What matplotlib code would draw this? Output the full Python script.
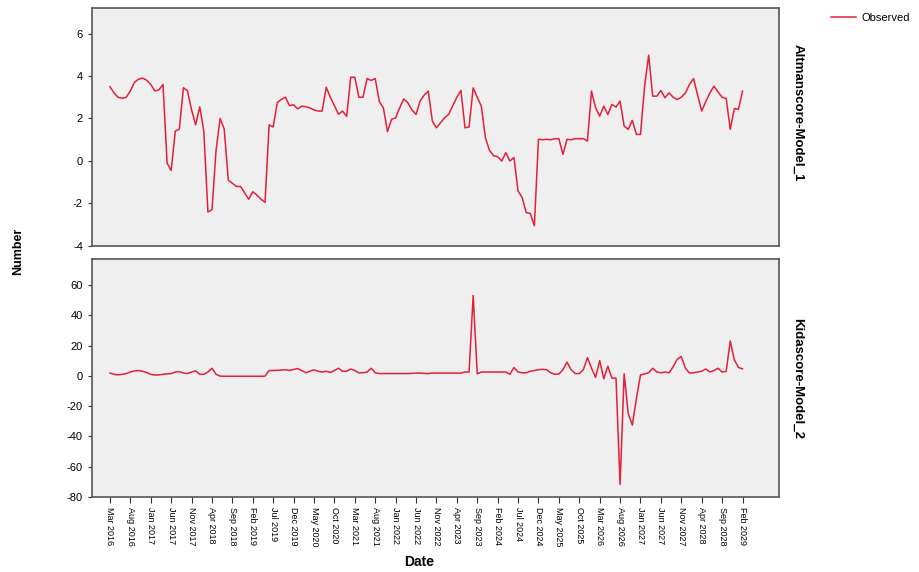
import matplotlib
matplotlib.use("Agg")
import matplotlib.pyplot as plt
import numpy as np

plt.rcParams['font.family'] = ['Liberation Sans', 'DejaVu Sans']
plt.rcParams['axes.unicode_minus'] = False

# monthly observations, Mar 2016 .. Feb 2029
altman = [3.5, 3.2, 3.0, 2.95, 3.0, 3.3, 3.7, 3.85, 3.9, 3.8,
          3.6, 3.3, 3.35, 3.6, -0.1, -0.45, 1.4, 1.5, 3.45, 3.3,
          2.4, 1.7, 2.55, 1.4, -2.4, -2.3, 0.5, 2.0, 1.5, -0.9,
          -1.05, -1.2, -1.2, -1.5, -1.8, -1.45, -1.6, -1.8, -1.95, 1.7,
          1.6, 2.75, 2.9, 3.0, 2.6, 2.65, 2.45, 2.58, 2.55, 2.5,
          2.4, 2.35, 2.35, 3.47, 3.0, 2.6, 2.2, 2.35, 2.1, 3.94,
          3.94, 3.0, 3.0, 3.88, 3.79, 3.88, 2.8, 2.5, 1.38, 1.96,
          2.03, 2.5, 2.92, 2.74, 2.4, 2.19, 2.82, 3.1, 3.29, 1.88,
          1.56, 1.8, 2.03, 2.2, 2.6, 3.0, 3.32, 1.56, 1.6, 3.44,
          3.0, 2.58, 1.09, 0.5, 0.25, 0.2, 0.0, 0.39, 0.0, 0.16,
          -1.41, -1.72, -2.43, -2.47, -3.05, 1.02, 1.0, 1.02, 1.0, 1.05,
          1.05, 0.31, 1.02, 1.0, 1.05, 1.05, 1.05, 0.94, 3.29, 2.5,
          2.11, 2.58, 2.19, 2.66, 2.54, 2.82, 1.64, 1.49, 1.91, 1.25,
          1.25, 3.5, 4.98, 3.05, 3.05, 3.32, 2.97, 3.21, 3.0, 2.89,
          3.0, 3.2, 3.6, 3.88, 3.1, 2.35, 2.8, 3.2, 3.52, 3.25,
          3.0, 2.94, 1.49, 2.47, 2.43, 3.29]

kida = [1.8, 1.0, 0.6, 1.0, 1.5, 2.5, 3.2, 3.5, 3.0, 2.2,
        1.0, 0.5, 0.6, 1.0, 1.3, 1.5, 2.5, 2.8, 1.8, 1.5,
        2.5, 3.3, 1.0, 1.0, 2.5, 5.0, 1.0, -0.2, -0.3, -0.3,
        -0.3, -0.3, -0.3, -0.3, -0.3, -0.3, -0.3, -0.3, -0.2, 3.5,
        3.5, 3.6, 3.8, 4.0, 3.6, 4.2, 4.8, 3.5, 2.0, 3.0,
        4.0, 3.0, 2.5, 3.0, 2.2, 3.5, 5.0, 3.0, 3.0, 4.5,
        3.5, 2.0, 2.0, 2.5, 5.0, 2.0, 1.5, 1.5, 1.5, 1.5,
        1.5, 1.5, 1.5, 1.5, 1.6, 1.8, 1.8, 1.6, 1.5, 1.8,
        1.8, 1.8, 1.8, 1.8, 1.8, 1.8, 1.8, 2.5, 2.5, 53.0,
        1.3, 2.5, 2.5, 2.5, 2.5, 2.5, 2.5, 2.5, 1.0, 5.5,
        2.5, 2.0, 2.0, 3.0, 3.5, 4.0, 4.3, 4.0, 2.0, 1.0,
        1.2, 4.0, 9.0, 4.0, 1.5, 1.5, 4.0, 12.0, 5.0, -1.0,
        10.0, -2.0, 6.3, -1.5, -1.5, -71.7, 1.3, -25.0, -32.5, -15.0,
        0.5, 1.3, 2.0, 5.0, 2.5, 2.0, 2.5, 2.0, 6.0, 11.0,
        12.8, 5.0, 1.8, 2.0, 2.5, 3.0, 4.5, 2.5, 3.5, 5.0,
        2.5, 3.0, 23.0, 10.5, 5.5, 4.6]

tick_labels = ['Mar 2016', 'Aug 2016', 'Jan 2017', 'Jun 2017', 'Nov 2017',
               'Apr 2018', 'Sep 2018', 'Feb 2019', 'Jul 2019', 'Dec 2019',
               'May 2020', 'Oct 2020', 'Mar 2021', 'Aug 2021', 'Jan 2022',
               'Jun 2022', 'Nov 2022', 'Apr 2023', 'Sep 2023', 'Feb 2024',
               'Jul 2024', 'Dec 2024', 'May 2025', 'Oct 2025', 'Mar 2026',
               'Aug 2026', 'Jan 2027', 'Jun 2027', 'Nov 2027', 'Apr 2028',
               'Sep 2028', 'Feb 2029']

x = np.arange(len(altman))
tick_pos = np.arange(len(tick_labels)) * 5

red = '#e3203a'
bg = '#efefef'
edge = '#555555'

fig = plt.figure(figsize=(9.2, 5.72), dpi=100)
ax1 = fig.add_axes([0.100, 0.570, 0.747, 0.416])
ax2 = fig.add_axes([0.100, 0.131, 0.747, 0.416])

line, = ax1.plot(x, altman, color=red, lw=1.1)
ax2.plot(x, kida, color=red, lw=1.1)

for ax in (ax1, ax2):
    ax.set_facecolor(bg)
    ax.set_xlim(-4.4, 164)
    for s in ax.spines.values():
        s.set_color(edge)
        s.set_linewidth(1.2)
    ax.tick_params(axis='y', labelsize=8, length=3, color='#333333')

ax1.set_ylim(-4, 7.2)
ax1.set_yticks([-4, -2, 0, 2, 4, 6])
ax1.set_xticks([])

ax2.set_ylim(-80, 77)
ax2.set_yticks([-80, -60, -40, -20, 0, 20, 40, 60])
ax2.set_xticks(tick_pos)
ax2.set_xticklabels(tick_labels, rotation=270, fontsize=6.5)
ax2.tick_params(axis='x', length=4, color='#333333', pad=3)

ax1.text(1.018, 0.56, 'Altmanscore-Model_1', transform=ax1.transAxes,
         rotation=270, va='center', ha='left', fontsize=9.5, fontweight='bold')
ax2.text(1.018, 0.5, 'Kidascore-Model_2', transform=ax2.transAxes,
         rotation=270, va='center', ha='left', fontsize=9.5, fontweight='bold')

fig.text(0.02, 0.56, 'Number', rotation=90, va='center', ha='center',
         fontsize=9, fontweight='bold')
fig.text(0.456, 0.018, 'Date', va='center', ha='center',
         fontsize=10, fontweight='bold')

fig.legend([line], ['Observed'], loc='upper right', bbox_to_anchor=(1.0, 0.995),
           frameon=False, fontsize=8, handlelength=2.2, handletextpad=0.5)

fig.savefig('out.png', dpi=100)
